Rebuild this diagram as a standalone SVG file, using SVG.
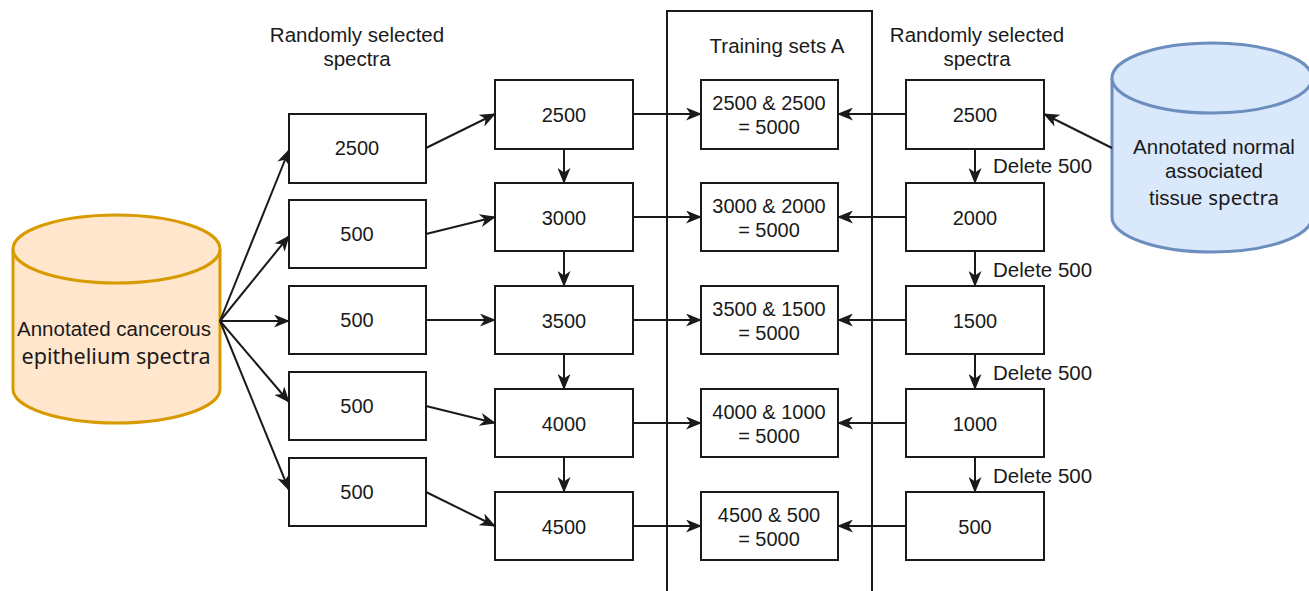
<svg xmlns="http://www.w3.org/2000/svg" width="1309" height="591" viewBox="0 0 1309 591">
<style>
.box{fill:#fff;stroke:#1a1a1a;stroke-width:2}
.t{font-family:"Liberation Sans",Arial,sans-serif;font-size:20px;fill:#1a1a1a;text-anchor:middle}
.l{font-family:"Liberation Sans",Arial,sans-serif;font-size:20.5px;fill:#1a1a1a;text-anchor:middle}
.d{font-family:"Liberation Sans",Arial,sans-serif;font-size:20.5px;fill:#1a1a1a}
.cal{font-family:"Noto Sans","Open Sans",sans-serif}
.c{stroke:#1a1a1a;stroke-width:2;fill:none;marker-end:url(#ah)}
</style>
<defs>
<marker id="ah" viewBox="0 0 16 13" refX="15" refY="6.5" markerWidth="16" markerHeight="13" markerUnits="userSpaceOnUse" orient="auto">
<path d="M0,0 L16,6.5 L0,13 L4.5,6.5 Z" fill="#1a1a1a"/>
</marker>
</defs>
<rect width="1309" height="591" fill="#fff"/>
<g id="trainingFrame"><rect x="667" y="11" width="205" height="600" fill="none" stroke="#1a1a1a" stroke-width="2"/>
<text class="l" x="777" y="53">Training sets A</text></g>
<g id="labels">
<text class="l" x="357" y="42">Randomly selected</text><text class="l" x="357" y="66">spectra</text>
<text class="l" x="977" y="42">Randomly selected</text><text class="l" x="977" y="66">spectra</text>
<text class="d" x="993" y="173">Delete 500</text>
<text class="d" x="993" y="277">Delete 500</text>
<text class="d" x="993" y="380">Delete 500</text>
<text class="d" x="993" y="483">Delete 500</text>
</g>
<g id="cancerDB">
<path d="M13,249 L13,389 A103.5,34 0 0 0 220,389 L220,249" fill="#ffe6cc" stroke="#d79b00" stroke-width="3"/>
<ellipse cx="116.5" cy="249" rx="103.5" ry="34" fill="#ffe6cc" stroke="#d79b00" stroke-width="3"/>
<text class="t" x="114" y="336" font-size="20" textLength="194" lengthAdjust="spacingAndGlyphs">Annotated cancerous</text>
<text class="cal" x="116" y="364" font-size="21" fill="#1a1a1a" text-anchor="middle" textLength="189" lengthAdjust="spacingAndGlyphs">epithelium spectra</text>
</g>
<g id="normalDB">
<path d="M1112,78 L1112,217 A100,35 0 0 0 1312,217 L1312,78" fill="#dae8fc" stroke="#6c8ebf" stroke-width="3"/>
<ellipse cx="1212" cy="78" rx="100" ry="35" fill="#dae8fc" stroke="#6c8ebf" stroke-width="3"/>
<text class="l" x="1214" y="154">Annotated normal</text>
<text class="l" x="1214" y="178">associated</text>
<text class="l" x="1214" y="205">tissue <tspan class="cal" font-size="20.5">spectra</tspan></text>
</g>
<g id="left">
<g id="L1"><rect class="box" x="289" y="114" width="137" height="69"/><text class="t" x="357" y="155">2500</text></g>
<g id="L2"><rect class="box" x="289" y="200" width="137" height="68"/><text class="t" x="357" y="241">500</text></g>
<g id="L3"><rect class="box" x="289" y="286" width="137" height="68"/><text class="t" x="357" y="327">500</text></g>
<g id="L4"><rect class="box" x="289" y="372" width="137" height="68"/><text class="t" x="357" y="413">500</text></g>
<g id="L5"><rect class="box" x="289" y="458" width="137" height="68"/><text class="t" x="357" y="499">500</text></g>
</g>
<g id="mid">
<g id="M1"><rect class="box" x="495" y="80" width="138" height="69"/><text class="t" x="564" y="122">2500</text></g>
<g id="M2"><rect class="box" x="495" y="183" width="138" height="68"/><text class="t" x="564" y="225">3000</text></g>
<g id="M3"><rect class="box" x="495" y="286" width="138" height="68"/><text class="t" x="564" y="328">3500</text></g>
<g id="M4"><rect class="box" x="495" y="389" width="138" height="68"/><text class="t" x="564" y="431">4000</text></g>
<g id="M5"><rect class="box" x="495" y="492" width="138" height="68"/><text class="t" x="564" y="534">4500</text></g>
</g>
<g id="train">
<g id="T1"><rect class="box" x="701" y="80" width="137" height="69"/><text class="t" x="769" y="110">2500 &amp; 2500</text><text class="t" x="769" y="134">= 5000</text></g>
<g id="T2"><rect class="box" x="701" y="183" width="137" height="68"/><text class="t" x="769" y="213">3000 &amp; 2000</text><text class="t" x="769" y="237">= 5000</text></g>
<g id="T3"><rect class="box" x="701" y="286" width="137" height="68"/><text class="t" x="769" y="316">3500 &amp; 1500</text><text class="t" x="769" y="340">= 5000</text></g>
<g id="T4"><rect class="box" x="701" y="389" width="137" height="68"/><text class="t" x="769" y="419">4000 &amp; 1000</text><text class="t" x="769" y="443">= 5000</text></g>
<g id="T5"><rect class="box" x="701" y="492" width="137" height="68"/><text class="t" x="769" y="522">4500 &amp; 500</text><text class="t" x="769" y="546">= 5000</text></g>
</g>
<g id="right">
<g id="R1"><rect class="box" x="906" y="80" width="138" height="69"/><text class="t" x="975" y="122">2500</text></g>
<g id="R2"><rect class="box" x="906" y="183" width="138" height="68"/><text class="t" x="975" y="225">2000</text></g>
<g id="R3"><rect class="box" x="906" y="286" width="138" height="68"/><text class="t" x="975" y="328">1500</text></g>
<g id="R4"><rect class="box" x="906" y="389" width="138" height="68"/><text class="t" x="975" y="431">1000</text></g>
<g id="R5"><rect class="box" x="906" y="492" width="138" height="68"/><text class="t" x="975" y="534">500</text></g>
</g>
<g id="connectors">
<line class="c" x1="220" y1="321" x2="289" y2="150"/>
<line class="c" x1="220" y1="321" x2="289" y2="236"/>
<line class="c" x1="220" y1="321" x2="289" y2="321"/>
<line class="c" x1="220" y1="321" x2="289" y2="402"/>
<line class="c" x1="220" y1="321" x2="289" y2="490"/>
<line class="c" x1="426" y1="148" x2="495" y2="114"/>
<line class="c" x1="426" y1="234" x2="495" y2="217"/>
<line class="c" x1="426" y1="320" x2="495" y2="320"/>
<line class="c" x1="426" y1="406" x2="495" y2="423"/>
<line class="c" x1="426" y1="492" x2="495" y2="526"/>
<line class="c" x1="564" y1="149" x2="564" y2="183"/>
<line class="c" x1="564" y1="251" x2="564" y2="286"/>
<line class="c" x1="564" y1="354" x2="564" y2="389"/>
<line class="c" x1="564" y1="457" x2="564" y2="492"/>
<line class="c" x1="633" y1="114" x2="701" y2="114"/>
<line class="c" x1="633" y1="217" x2="701" y2="217"/>
<line class="c" x1="633" y1="320" x2="701" y2="320"/>
<line class="c" x1="633" y1="423" x2="701" y2="423"/>
<line class="c" x1="633" y1="526" x2="701" y2="526"/>
<line class="c" x1="906" y1="114" x2="838" y2="114"/>
<line class="c" x1="906" y1="217" x2="838" y2="217"/>
<line class="c" x1="906" y1="320" x2="838" y2="320"/>
<line class="c" x1="906" y1="423" x2="838" y2="423"/>
<line class="c" x1="906" y1="526" x2="838" y2="526"/>
<line class="c" x1="975" y1="149" x2="975" y2="183"/>
<line class="c" x1="975" y1="251" x2="975" y2="286"/>
<line class="c" x1="975" y1="354" x2="975" y2="389"/>
<line class="c" x1="975" y1="457" x2="975" y2="492"/>
<line class="c" x1="1112" y1="148" x2="1044" y2="114"/>
</g>
</svg>
